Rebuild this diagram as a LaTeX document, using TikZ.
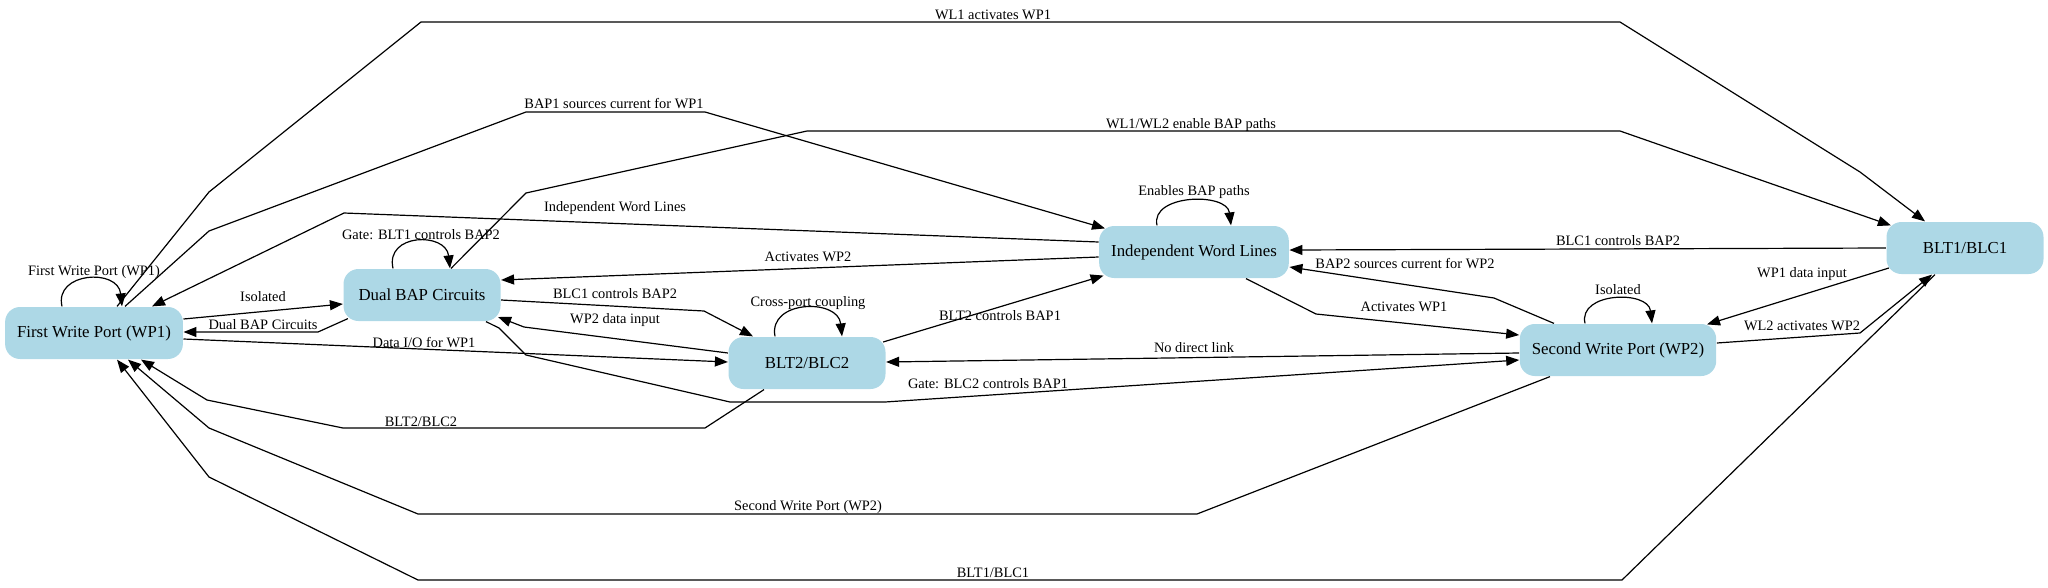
\documentclass[tikz,border=0pt]{standalone}
\usepackage{fontspec}
\setmainfont{Liberation Serif}
\usepackage{tikz}
\usetikzlibrary{arrows.meta}
\definecolor{portblue}{RGB}{173,216,230}

\begin{document}
\begin{tikzpicture}[
  x=1pt, y=-1pt,
  unit/.style={rectangle,rounded corners=15pt,fill=portblue,minimum width=157pt,
    minimum height=52pt,inner xsep=12pt,font=\fontsize{16.8}{20}\selectfont},
  lbl/.style={inner sep=0pt,font=\fontsize{14.4}{16}\selectfont},
  line width=1.2pt, -{Triangle[length=13pt,width=10pt]}
]
  \useasboundingbox (0,0) rectangle (2048,587);

  \node[unit] (wp1)  at (94,333)   {First Write Port (WP1)};
  \node[unit] (dbap) at (422,295)  {Dual BAP Circuits};
  \node[unit] (blt2) at (807,363)  {BLT2/BLC2};
  \node[unit] (iwl)  at (1194,252) {Independent Word Lines};
  \node[unit] (wp2)  at (1618,350) {Second Write Port (WP2)};
  \node[unit] (blt1) at (1965,248) {BLT1/BLC1};

  % self loops
  \draw ([xshift=-32]wp1.north) .. controls (54,272) and (118,268) .. ([xshift=28]wp1.north);
  \draw ([xshift=-29]dbap.north) .. controls (385,233) and (446,232) .. ([xshift=28]dbap.north);
  \draw ([xshift=-32]blt2.north) .. controls (768,300) and (838,298) .. ([xshift=35]blt2.north);
  \draw ([xshift=-37]iwl.north) .. controls (1150,194) and (1227,192) .. ([xshift=37]iwl.north);
  \draw ([xshift=-33]wp2.north) .. controls (1578,292) and (1648,290) .. ([xshift=34]wp2.north);

  % left part
  \draw ([yshift=14]wp1.east) -- ([yshift=-9]dbap.west);
  \draw ([xshift=5pt,yshift=3pt]dbap.south west) -- (318,332) -- ([yshift=1]wp1.east);
  \draw ([yshift=-6]wp1.east) -- ([yshift=1]blt2.west);
  \draw ([yshift=-5]dbap.east) -- (704,311) -- ([xshift=-54]blt2.north);
  \draw ([yshift=10]blt2.west) -- (524,327) -- ([xshift=-3,yshift=-22]dbap.east);
  \draw ([xshift=64]dbap.south) -- (499,328) -- (526,355) -- (730,402) -- (885,402) -- ([yshift=-10]wp2.west);
  \draw ([yshift=-3]wp2.west) -- ([yshift=1]blt2.east);
  \draw ([xshift=-3,yshift=21]blt2.east) -- ([xshift=5,yshift=3]iwl.south west);
  \draw ([yshift=-5]iwl.west) -- ([yshift=15]dbap.east);
  \draw ([yshift=10]iwl.west) -- (344,213) -- ([xshift=58]wp1.north);

  % long top edges
  \draw ([xshift=31]wp1.north) -- (209,231) -- (526,112) -- (705,112) -- ([xshift=-89,yshift=-3]iwl.north);
  \draw ([xshift=29]dbap.north) -- (526,193) -- (807,131) -- (1620,131) -- ([xshift=5,yshift=-4]blt1.north west);
  \draw ([xshift=23]wp1.north) -- (209,192) -- (421,22) -- (1620,22) -- (1860,172) -- ([xshift=-40]blt1.north);

  % right part
  \draw (blt1.west) -- ([yshift=2]iwl.east);
  \draw ([xshift=-64]wp2.north) -- (1494,298) -- ([yshift=-15]iwl.east);
  \draw ([xshift=52]iwl.south) -- (1316,314) -- ([yshift=15]wp2.west);
  \draw ([xshift=3,yshift=-20]blt1.west) -- ([xshift=89,yshift=-1]wp2.north);
  \draw ([yshift=7]wp2.east) -- (1860,333) -- ([xshift=-33]blt1.south);

  % long bottom edges
  \draw ([xshift=-30]blt1.south) -- (1622,580) -- (418,580) -- (209,477) -- ([xshift=23]wp1.south);
  \draw ([xshift=-68]wp2.south) -- (1197,514) -- (418,514) -- (209,428) -- ([xshift=34]wp1.south);
  \draw ([xshift=-43]blt2.south) -- (705,428) -- (343,428) -- (207,400) -- ([xshift=47]wp1.south);

  % edge labels
  \node[lbl] (lwp1)  at (94,272)   {First Write Port (WP1)};
  \node[lbl] (liso1) at (263,297)  {Isolated};
  \node[lbl] (ldbap) at (263,325)  {Dual BAP Circuits};
  \node[lbl] (ldata) at (424,343)  {Data I/O for WP1};
  \node[lbl] (lblc1) at (615,294)  {BLC1 controls BAP2};
  \node[lbl] (lwp2d) at (615,320)  {WP2 data input};
  \node[lbl] (lgate1) at (421,235) {Gate: BLT1 controls BAP2};
  \node[lbl] (lcross) at (808,303) {Cross-port coupling};
  \node[lbl] (lgate2) at (988,384) {Gate: BLC2 controls BAP1};
  \node[lbl] (lnolink) at (1194,348) {No direct link};
  \node[lbl] (lblt2c) at (1000,316) {BLT2 controls BAP1};
  \node[lbl] (lact2) at (808,257)  {Activates WP2};
  \node[lbl] (liwl)  at (615,208)  {Independent Word Lines};
  \node[lbl] (lbap1) at (614,104)  {BAP1 sources current for WP1};
  \node[lbl] (lenab) at (1194,192) {Enables BAP paths};
  \node[lbl] (lwl12) at (1191,125) {WL1/WL2 enable BAP paths};
  \node[lbl] (lwl1)  at (993,15)   {WL1 activates WP1};
  \node[lbl] (lblc1b) at (1618,241) {BLC1 controls BAP2};
  \node[lbl] (lbap2) at (1405,264) {BAP2 sources current for WP2};
  \node[lbl] (lact1) at (1404,307) {Activates WP1};
  \node[lbl] (liso2) at (1618,290) {Isolated};
  \node[lbl] (lwp1d) at (1802,274) {WP1 data input};
  \node[lbl] (lwl2)  at (1802,326) {WL2 activates WP2};
  \node[lbl] (lblt1) at (993,573)  {BLT1/BLC1};
  \node[lbl] (lwp2)  at (808,507)  {Second Write Port (WP2)};
  \node[lbl] (lblt2) at (421,422)  {BLT2/BLC2};
\end{tikzpicture}
\end{document}
